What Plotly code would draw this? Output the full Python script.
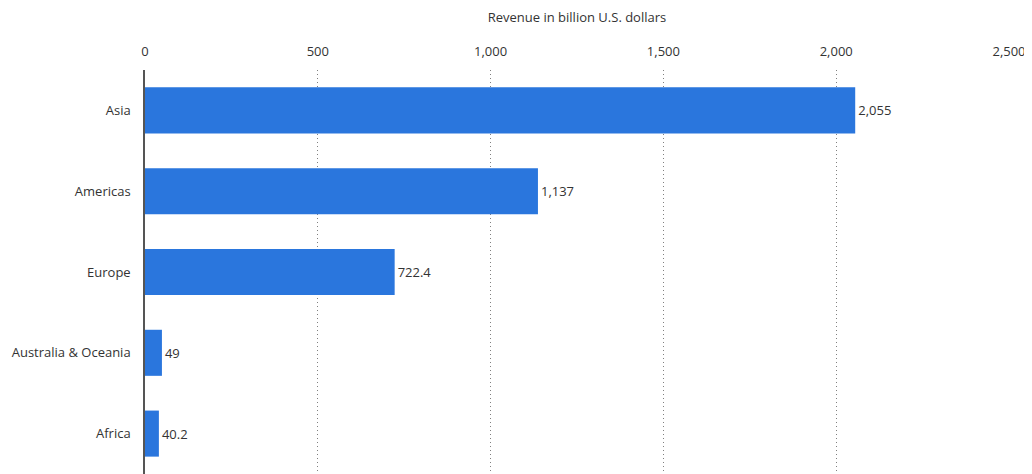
import plotly.graph_objects as go

regions = ["Asia", "Americas", "Europe", "Australia & Oceania", "Africa"]
revenue = [2055, 1137, 722.4, 49, 40.2]
x_ticks = [0, 500, 1000, 1500, 2000, 2500]
x_title = "Revenue in billion U.S. dollars"

labels = [f"{v:,}" for v in revenue]

fig = go.Figure(
    go.Bar(
        y=regions,
        x=revenue,
        orientation="h",
        marker=dict(color="#2a76dd", line=dict(width=0)),
        width=0.57,
        text=labels,
        textposition="outside",
        textfont=dict(color="#333333", size=13),
        cliponaxis=False,
    )
)

# page body adds an 8px offset, so the figure is sized to fit the window
fig.update_layout(
    width=1024,
    height=466,
    margin=dict(l=137, r=23, t=62, b=0, autoexpand=False),
    plot_bgcolor="white",
    paper_bgcolor="white",
    font=dict(family="Open Sans, sans-serif", size=13, color="#333333"),
    showlegend=False,
)

fig.update_xaxes(
    side="top",
    range=[0, 2500],
    tickvals=x_ticks,
    tickformat=",",
    showgrid=True,
    gridcolor="#808080",
    griddash="1px,3px",
    gridwidth=1,
    zeroline=False,
    automargin=False,
    ticks="outside",
    ticklen=8,
    tickcolor="rgba(0,0,0,0)",
    tickfont=dict(size=13, color="#333333"),
    title=dict(text=x_title, font=dict(size=13, color="#333333"), standoff=18),
)

fig.update_yaxes(
    autorange="reversed",
    showline=True,
    linecolor="#555555",
    linewidth=1.5,
    automargin=False,
    ticks="outside",
    ticklen=10,
    tickcolor="rgba(0,0,0,0)",
    tickfont=dict(size=13, color="#333333"),
)

fig.write_html("out.html")
